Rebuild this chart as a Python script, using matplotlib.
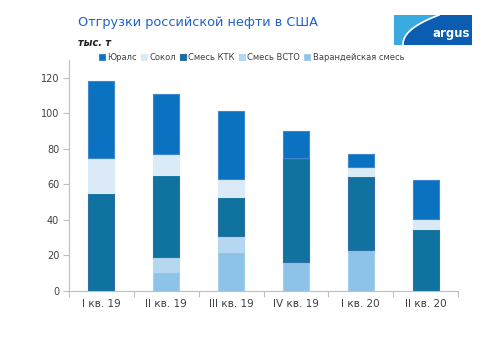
import matplotlib
matplotlib.use("Agg")
import matplotlib.pyplot as plt
import numpy as np
from matplotlib.patches import Rectangle, Polygon

categories = ["I кв. 19", "II кв. 19", "III кв. 19", "IV кв. 19", "I кв. 20", "II кв. 20"]
series_names = ["Юралс", "Сокол", "Смесь КТК", "Смесь ВСТО", "Варандейская смесь"]
varandey = [0, 10.5, 22, 16.3, 23, 0]
vsto = [0, 8.5, 8.6, 0, 0, 0]
ktk = [55, 46, 22, 58.3, 41.7, 35]
sokol = [20, 12, 10.2, 0, 4.9, 5.5]
urals = [43, 34, 38.4, 15.5, 7.5, 22]
yticks = [0, 20, 40, 60, 80, 100, 120]

colors = {
    "Юралс": "#0B72C1",
    "Сокол": "#DAEAF7",
    "Смесь КТК": "#10739F",
    "Смесь ВСТО": "#B5D7EF",
    "Варандейская смесь": "#8EC3E8",
}
edges = {
    "Юралс": "#3F86CC",
    "Сокол": "#DAEAF7",
    "Смесь КТК": "#2F6FA6",
    "Смесь ВСТО": "#B5D7EF",
    "Варандейская смесь": "#A3CEEC",
}

fig = plt.figure(figsize=(5.0, 3.53), dpi=100)
ax = fig.add_axes([0.138, 0.1765, 0.778, 0.6535])

x = np.arange(len(categories))
stack_order = [("Варандейская смесь", varandey), ("Смесь ВСТО", vsto), ("Смесь КТК", ktk),
               ("Сокол", sokol), ("Юралс", urals)]
bottom = np.zeros(len(categories))
handles = {}
for name, vals in stack_order:
    v = np.array(vals, dtype=float)
    b = ax.bar(x, v, width=0.4, bottom=bottom, color=colors[name],
               edgecolor=edges[name], linewidth=0.8, label=name)
    handles[name] = b
    bottom += v

ax.set_xlim(-0.5, len(categories) - 0.5)
ax.set_ylim(0, 130)
ax.set_yticks(yticks)
ax.set_yticklabels([str(t) for t in yticks], fontsize=7, color="#404040")
ax.set_xticks(x)
ax.set_xticklabels(categories, fontsize=7.5, color="#404040")
ax.set_xticks(np.arange(-0.5, len(categories)), minor=True)
ax.tick_params(axis="x", which="major", length=0, pad=6)
ax.tick_params(axis="x", which="minor", length=4, color="#BFBFBF", width=0.8)
ax.tick_params(axis="y", length=4, color="#BFBFBF", width=0.8, pad=3)
for s in ["top", "right"]:
    ax.spines[s].set_visible(False)
for s in ["left", "bottom"]:
    ax.spines[s].set_color("#BFBFBF")
    ax.spines[s].set_linewidth(0.8)

fig.legend([handles[n] for n in series_names], series_names, loc="center",
           bbox_to_anchor=(0.503, 0.838), ncol=5, frameon=False, fontsize=6.0,
           handlelength=0.7, handleheight=0.7, handletextpad=0.3, columnspacing=0.5,
           labelcolor="#404040")

fig.text(0.156, 0.937, "Отгрузки российской нефти в США", fontsize=9.3, color="#1E64C8",
         ha="left", va="center")
fig.text(0.156, 0.877, "тыс. т", fontsize=7, fontweight="bold", fontstyle="italic",
         color="#222222", ha="left", va="center")

# logo
lax = fig.add_axes([394 / 500, 1 - 45 / 353, 78 / 500, 30 / 353])
lax.set_xlim(0, 78)
lax.set_ylim(0, 30)
lax.axis("off")
lax.add_patch(Rectangle((0, 0), 78, 30, color="#0A5DB0"))
t = np.linspace(0, 1, 40)
cxs = 9 + 36 * t ** 2.2
cys = 30 * t
pts = [(0, 0)] + list(zip(cxs, cys)) + [(0, 30)]
lax.add_patch(Polygon(pts, closed=True, color="#3BAAE0"))
lax.plot(cxs, cys, color="white", lw=1.2)
lax.text(57, 11, "argus", color="white", fontsize=8.5, fontweight="bold", ha="center", va="center")

fig.savefig("out.png", dpi=100)
